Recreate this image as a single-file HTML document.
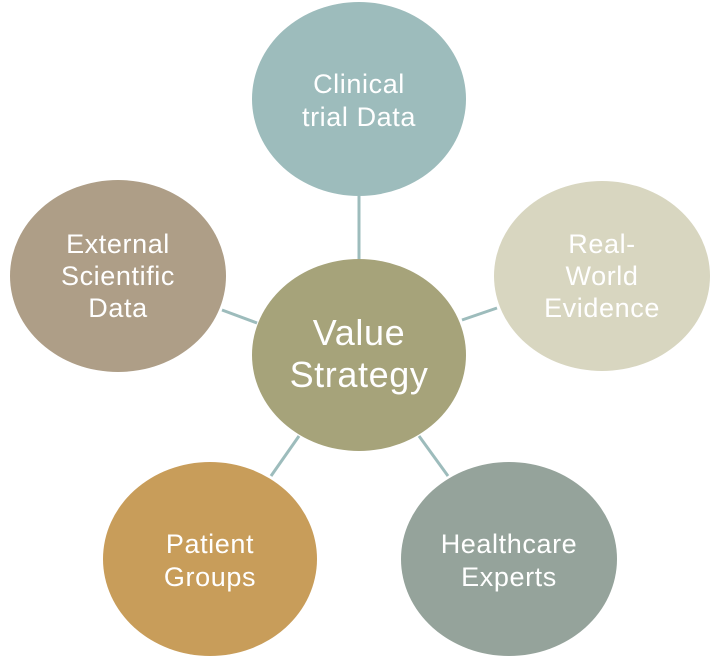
<!DOCTYPE html>
<html><head><meta charset="utf-8"><style>
html,body{margin:0;padding:0;background:#fff;}
svg{display:block;}
text{font-family:"Liberation Sans",sans-serif;fill:#fff;text-anchor:middle;}
</style></head><body>
<svg width="719" height="660" viewBox="0 0 719 660">
<g stroke="#9dbcbc" stroke-width="3">
<line x1="359" y1="196" x2="359" y2="259"/>
<line x1="462" y1="320" x2="497" y2="308"/>
<line x1="222" y1="310" x2="257" y2="323"/>
<line x1="299" y1="436" x2="271" y2="476"/>
<line x1="419" y1="436" x2="448" y2="476"/>
</g>
<ellipse cx="359" cy="99" rx="107" ry="97" fill="#9dbcbc"/>
<ellipse cx="602" cy="276" rx="108" ry="95" fill="#d8d6c0"/>
<ellipse cx="118" cy="276" rx="108" ry="96" fill="#ae9e87"/>
<ellipse cx="359" cy="355" rx="107" ry="96" fill="#a6a37a"/>
<ellipse cx="210" cy="559" rx="107" ry="97" fill="#c89d5a"/>
<ellipse cx="509" cy="559" rx="108" ry="97" fill="#95a39b"/>
<g font-size="27" letter-spacing="0.6">
<text x="359" y="93">Clinical</text>
<text x="359" y="126">trial Data</text>
<text x="602" y="253">Real-</text>
<text x="602" y="285">World</text>
<text x="602" y="317">Evidence</text>
<text x="118" y="253">External</text>
<text x="118" y="285">Scientific</text>
<text x="118" y="317">Data</text>
<text x="210" y="553">Patient</text>
<text x="210" y="586">Groups</text>
<text x="509" y="553">Healthcare</text>
<text x="509" y="586">Experts</text>
</g>
<g font-size="36" letter-spacing="0.6">
<text x="359" y="345">Value</text>
<text x="359" y="387">Strategy</text>
</g>
</svg>
</body></html>
